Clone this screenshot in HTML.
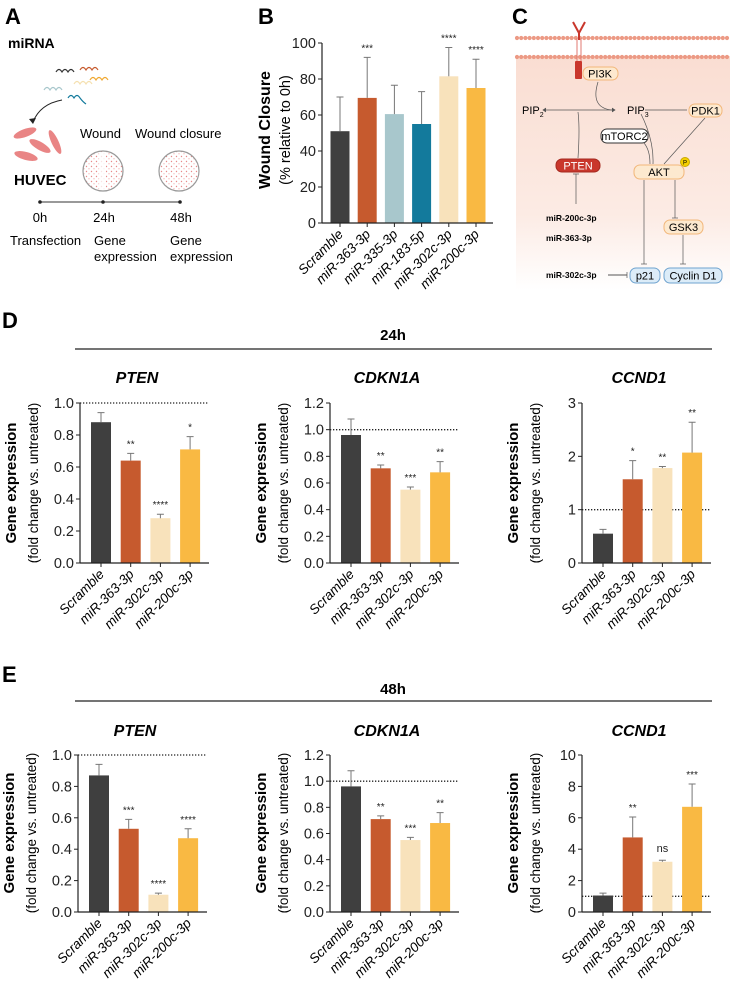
<!DOCTYPE html>
<html><head><meta charset="utf-8">
<style>
html,body{margin:0;padding:0;background:#fff;}
svg{display:block;font-family:"Liberation Sans",Arial,sans-serif;}
.tk{font-family:"Liberation Sans Narrow","Liberation Sans",sans-serif;font-size:14.5px;fill:#222;}
</style></head>
<body>
<svg id="fig" width="730" height="987" viewBox="0 0 730 987" xmlns="http://www.w3.org/2000/svg">
<defs>
<linearGradient id="cellbg" x1="0" y1="0" x2="0" y2="1">
<stop offset="0" stop-color="#f9dcd0"/><stop offset="0.7" stop-color="#fcebe4"/><stop offset="1" stop-color="#ffffff"/>
</linearGradient>
<pattern id="dots" width="5" height="5" patternUnits="userSpaceOnUse">
<circle cx="1.5" cy="1.5" r="0.7" fill="#e88a8a"/><circle cx="4" cy="3.8" r="0.6" fill="#f0a0a0"/>
</pattern>
</defs>

<text x="5" y="24" font-size="22" font-weight="bold">A</text>
<text x="258" y="24" font-size="22" font-weight="bold">B</text>
<text x="512" y="24" font-size="22" font-weight="bold">C</text>
<text x="2" y="328" font-size="22" font-weight="bold">D</text>
<text x="2" y="682" font-size="22" font-weight="bold">E</text>

<g>
<text x="8" y="48" font-size="14" font-weight="bold">miRNA</text>
<g fill="none" stroke-width="1.2">
<path d="M56 72 q3 -5 6 0 q3 -5 6 0 q3 -5 6 0" stroke="#333"/>
<path d="M80 70 q3 -5 6 0 q3 -5 6 0 q3 -5 6 0" stroke="#c65a2e"/>
<path d="M90 80 q3 -5 6 0 q3 -5 6 0 q3 -5 6 0" stroke="#f0a830"/>
<path d="M44 90 q3 -5 6 0 q3 -5 6 0 q3 -5 6 0" stroke="#a8c7cc"/>
<path d="M74 84 q3 -5 6 0 q3 -5 6 0 q3 -5 6 0" stroke="#f5e0b0"/>
<path d="M68 98 q3 -5 6 0 q3 -5 6 0 q3 4 6 6" stroke="#137a9c"/>
</g>
<path d="M62 100 Q40 104 33 122" fill="none" stroke="#222" stroke-width="1"/>
<path d="M29 119 L33 124 L36 118" fill="#222"/>
<g fill="#e98585">
<ellipse cx="25" cy="133" rx="12" ry="4" transform="rotate(-20 25 133)"/>
<ellipse cx="40" cy="146" rx="12" ry="4" transform="rotate(30 40 146)"/>
<ellipse cx="55" cy="142" rx="13" ry="3.5" transform="rotate(65 55 142)"/>
<ellipse cx="26" cy="156" rx="12" ry="4" transform="rotate(15 26 156)"/>
</g>
<text x="14" y="185" font-size="15" font-weight="bold">HUVEC</text>
<text x="80" y="138" font-size="13">Wound</text>
<text x="135" y="138" font-size="13">Wound closure</text>
<circle cx="103" cy="171" r="20" fill="url(#dots)" stroke="#999" stroke-width="1.2"/>
<rect x="99" y="152" width="7" height="38" fill="#fff" opacity="0.75"/>
<circle cx="179" cy="171" r="20" fill="url(#dots)" stroke="#999" stroke-width="1.2"/>
<line x1="40" y1="202" x2="180" y2="202" stroke="#333" stroke-width="1"/>
<circle cx="40" cy="202" r="1.8" fill="#222"/><circle cx="103" cy="202" r="1.8" fill="#222"/><circle cx="180" cy="202" r="1.8" fill="#222"/>
<g font-size="13" text-anchor="middle">
<text x="40" y="222">0h</text><text x="104" y="222">24h</text><text x="181" y="222">48h</text>
</g>
<g font-size="13">
<text x="10" y="245">Transfection</text>
<text x="94" y="245">Gene</text><text x="94" y="261">expression</text>
<text x="170" y="245">Gene</text><text x="170" y="261">expression</text>
</g>
</g>

<g id="chartB"></g>

<g>
<rect x="516" y="38" width="214" height="252" fill="url(#cellbg)"/>
<rect x="516" y="32" width="214" height="24" fill="#fff"/>
<g id="membrane" fill="#ec9a85"></g>
<line x1="577" y1="38" x2="577" y2="62" stroke="#e07a70" stroke-width="1"/><line x1="581" y1="38" x2="581" y2="62" stroke="#e07a70" stroke-width="1"/>
<path d="M573 22 L579 33 L585 22" fill="none" stroke="#c9372c" stroke-width="2"/>
<line x1="579" y1="33" x2="579" y2="40" stroke="#c9372c" stroke-width="2"/>
<rect x="575" y="61" width="7" height="18" rx="1" fill="#c9372c"/>
<g font-size="11" stroke-width="1">
<rect x="583" y="67" width="35" height="13" rx="6" fill="#fde9cf" stroke="#f2b77a"/><text x="600" y="77.5" text-anchor="middle">PI3K</text>
<text x="522" y="114">PIP<tspan font-size="7" dy="3">2</tspan></text>
<text x="627" y="114">PIP<tspan font-size="7" dy="3">3</tspan></text>
<rect x="689" y="104" width="33" height="13" rx="6" fill="#fde9cf" stroke="#f2b77a"/><text x="705.5" y="114.5" text-anchor="middle">PDK1</text>
<rect x="601" y="129" width="47" height="14" rx="6" fill="#fff" stroke="#333"/><text x="624.5" y="140" text-anchor="middle">mTORC2</text>
<rect x="556" y="159" width="44" height="13" rx="6" fill="#c9372c" stroke="#a52a20"/><text x="578" y="169.5" text-anchor="middle" fill="#fff">PTEN</text>
<rect x="634" y="165" width="50" height="14" rx="6" fill="#fde9cf" stroke="#f2b77a"/><text x="659" y="176" text-anchor="middle">AKT</text>
<circle cx="685" cy="162" r="4.5" fill="#f5d000" stroke="#c9a800"/><text x="685" y="164.5" font-size="6" text-anchor="middle">P</text>
<rect x="664" y="220" width="39" height="14" rx="6" fill="#fde9cf" stroke="#f2b77a"/><text x="683.5" y="231" text-anchor="middle">GSK3</text>
<rect x="630" y="268" width="30" height="15" rx="6" fill="#dcecf8" stroke="#6fa3cf"/><text x="645" y="279.5" text-anchor="middle">p21</text>
<rect x="664" y="268" width="58" height="15" rx="6" fill="#dcecf8" stroke="#6fa3cf"/><text x="693" y="279.5" text-anchor="middle">Cyclin D1</text>
</g>
<g font-size="8.5" font-weight="bold">
<text x="546" y="221">miR-200c-3p</text>
<text x="546" y="241">miR-363-3p</text>
<text x="546" y="278">miR-302c-3p</text>
</g>
<g fill="none" stroke="#555" stroke-width="0.7">
<line x1="546" y1="110" x2="612" y2="110"/><path d="M546 108 l-3 2 l3 2" fill="#555"/><path d="M612 108 l3 2 l-3 2" fill="#555"/>
<path d="M598 82 Q590 108 612 110"/>
<path d="M578 158 Q580 128 578 112"/>
<line x1="576" y1="204" x2="576" y2="174"/><line x1="573" y1="174" x2="579" y2="174"/>
<line x1="645" y1="110" x2="687" y2="110"/>
<path d="M641 114 Q654 140 653 164"/>
<path d="M705 118 L664 164"/>
<path d="M644 143 Q650 150 650 164"/>
<line x1="644" y1="180" x2="644" y2="264"/><line x1="641" y1="264" x2="647" y2="264"/>
<line x1="675" y1="180" x2="675" y2="218"/><line x1="672" y1="218" x2="678" y2="218"/>
<line x1="683" y1="235" x2="683" y2="264"/><line x1="680" y1="264" x2="686" y2="264"/>
<line x1="608" y1="275" x2="627" y2="275" stroke-width="1"/><line x1="627" y1="272" x2="627" y2="278"/>
</g>
</g>

<text x="393" y="340" font-size="15" font-weight="bold" text-anchor="middle">24h</text>
<line x1="75" y1="349" x2="712" y2="349" stroke="#222" stroke-width="1.2"/>
<text x="393" y="694" font-size="15" font-weight="bold" text-anchor="middle">48h</text>
<line x1="75" y1="701" x2="712" y2="701" stroke="#222" stroke-width="1.2"/>

<g id="charts"></g>
</svg>

<script>
const bCategories = ["Scramble","miR-363-3p","miR-335-3p","miR-183-5p","miR-302c-3p","miR-200c-3p"];
const bValues = [51, 69.5, 60.5, 55, 81.5, 75];
const bErrors = [19, 22.5, 16, 18, 16, 16];
const bStars = ["","***","","","****","****"];
const bTicks = [0,20,40,60,80,100];
const bColors = ["#3f3f3f","#c65a2e","#a8c7cc","#137a9c","#f8e2bb","#f9b943"];

const geneCategories = ["Scramble","miR-363-3p","miR-302c-3p","miR-200c-3p"];
const geneColors = ["#3f3f3f","#c65a2e","#f8e2bb","#f9b943"];
const pten24Values = [0.88, 0.64, 0.28, 0.71];
const pten24Errors = [0.06, 0.045, 0.025, 0.08];
const pten24Stars = ["","**","****","*"];
const cdkn24Values = [0.96, 0.71, 0.55, 0.68];
const cdkn24Errors = [0.12, 0.025, 0.02, 0.08];
const cdkn24Stars = ["","**","***","**"];
const ccnd24Values = [0.55, 1.57, 1.78, 2.07];
const ccnd24Errors = [0.08, 0.35, 0.03, 0.57];
const ccnd24Stars = ["","*","**","**"];
const pten48Values = [0.87, 0.53, 0.11, 0.47];
const pten48Errors = [0.07, 0.06, 0.01, 0.06];
const pten48Stars = ["","***","****","****"];
const cdkn48Values = [0.96, 0.71, 0.55, 0.68];
const cdkn48Errors = [0.12, 0.025, 0.02, 0.08];
const cdkn48Stars = ["","**","***","**"];
const ccnd48Values = [1.05, 4.75, 3.2, 6.7];
const ccnd48Errors = [0.15, 1.3, 0.1, 1.45];
const ccnd48Stars = ["","**","ns","***"];
const ptenTicks = [0,0.2,0.4,0.6,0.8,1.0];
const cdknTicks = [0,0.2,0.4,0.6,0.8,1.0,1.2];
const ccnd24Ticks = [0,1,2,3];
const ccnd48Ticks = [0,2,4,6,8,10];

const NS = "http://www.w3.org/2000/svg";
function mk(tag, parent, attrs){
  const e = document.createElementNS(NS, tag);
  for (const k in attrs) e.setAttribute(k, attrs[k]);
  parent.appendChild(e);
  return e;
}

const mem = document.getElementById('membrane');
for (let x = 517; x < 730; x += 4.2) {
  for (const y of [38, 57]) {
    const c = mk('circle', mem, {cx: x, cy: y, r: 2.1});
    
    
  }
}

function drawChart(parent, cfg) {
  const g = mk('g', parent, {});
  
  
  const yMax = cfg.ticks[cfg.ticks.length - 1];
  const yScale = v => cfg.y0 - (v / yMax) * (cfg.y0 - cfg.yTop);
  const xScale = i => cfg.x0 + cfg.first + i * cfg.step;
  const fmt = cfg.fmt || (v => String(v));
  if (cfg.refLine !== undefined) {
    const l = mk('line', g, {x1: cfg.x0, x2: cfg.xEnd, y1: yScale(cfg.refLine), y2: yScale(cfg.refLine), stroke: '#222', 'stroke-width': 1.3, 'stroke-dasharray': '1.3,1.7'});
    
    
  }
  cfg.values.forEach((v, i) => {
    const cx = xScale(i);
    const top = yScale(v);
    const r = mk('rect', g, {x: cx - cfg.bw / 2, y: top, width: cfg.bw, height: cfg.y0 - top, fill: cfg.colors[i]});
    
    
    const et = yScale(v + cfg.errors[i]);
    const e = mk('path', g, {d: `M${cx} ${top} V${et} M${cx-3.5} ${et} H${cx+3.5}`, stroke: '#777', 'stroke-width': 1, fill: 'none'});
    
    
    if (cfg.stars[i]) {
      const s = mk('text', g, {x: cx, y: et - (cfg.stars[i] === 'ns' ? 8 : 6), 'text-anchor': 'middle', 'font-size': cfg.stars[i] === 'ns' ? 11 : 10, fill: '#222'});
      s.textContent = cfg.stars[i];
      
      
    }
    mk('line', g, {x1: cx, x2: cx, y1: cfg.y0, y2: cfg.y0 + 4, stroke: '#222', 'stroke-width': 1});
    const lx = cx + 4, ly = cfg.y0 + 12;
    const t = mk('text', g, {x: lx, y: ly, 'text-anchor': 'end', 'font-size': 13.5, 'font-style': 'italic', transform: `rotate(-45 ${lx} ${ly})`});
    t.textContent = cfg.cats[i];
    
    
  });
  const ya = mk('line', g, {x1: cfg.x0, x2: cfg.x0, y1: cfg.yTop, y2: cfg.y0, stroke: '#222', 'stroke-width': 1.2});
  
  
  const xa = mk('line', g, {x1: cfg.x0, x2: cfg.xEnd, y1: cfg.y0, y2: cfg.y0, stroke: '#222', 'stroke-width': 1.2});
  
  
  cfg.ticks.forEach(v => {
    const y = yScale(v);
    mk('line', g, {x1: cfg.x0 - 4, x2: cfg.x0, y1: y, y2: y, stroke: '#222', 'stroke-width': 1});
    const t = mk('text', g, {x: cfg.x0 - 6, y: y + 5, 'text-anchor': 'end', class: 'tk'});
    t.textContent = fmt(v);
    
    
  });
  const l1 = mk('text', g, {x: cfg.lab1x, y: cfg.labY, 'text-anchor': 'middle', 'font-size': cfg.lab1size || 15, 'font-weight': 'bold', transform: `rotate(-90 ${cfg.lab1x} ${cfg.labY})`});
  l1.textContent = cfg.lab1;
  
  
  const l2 = mk('text', g, {x: cfg.lab2x, y: cfg.labY, 'text-anchor': 'middle', 'font-size': cfg.lab2size || 13.5, transform: `rotate(-90 ${cfg.lab2x} ${cfg.labY})`});
  l2.textContent = cfg.lab2;
  
  
  if (cfg.title) {
    const tt = mk('text', g, {x: cfg.titleX, y: cfg.titleY, 'text-anchor': 'middle', 'font-size': 16, 'font-weight': 'bold', 'font-style': 'italic'});
    tt.textContent = cfg.title;
    
    
  }
}

drawChart(document.getElementById('chartB'), {
  name: 'wound-closure-bars', cats: bCategories, values: bValues, errors: bErrors, stars: bStars,
  colors: bColors, ticks: bTicks, x0: 322, xEnd: 493, y0: 223, yTop: 43, first: 18, step: 27.2, bw: 19,
  lab1: 'Wound Closure', lab2: '(% relative to 0h)', lab1x: 270, lab2x: 290, labY: 130, lab1size: 16, lab2size: 14.5
});

const charts = document.getElementById('charts');
const dec1 = v => v.toFixed(1);
const panels = [
  {name:'pten-24h', title:'PTEN', vals:pten24Values, errs:pten24Errors, stars:pten24Stars, ticks:ptenTicks, fmt:dec1, x0:80, ref:1, row:0},
  {name:'cdkn1a-24h', title:'CDKN1A', vals:cdkn24Values, errs:cdkn24Errors, stars:cdkn24Stars, ticks:cdknTicks, fmt:dec1, x0:330, ref:1, row:0},
  {name:'ccnd1-24h', title:'CCND1', vals:ccnd24Values, errs:ccnd24Errors, stars:ccnd24Stars, ticks:ccnd24Ticks, fmt:null, x0:582, ref:1, row:0},
  {name:'pten-48h', title:'PTEN', vals:pten48Values, errs:pten48Errors, stars:pten48Stars, ticks:ptenTicks, fmt:dec1, x0:78, ref:1, row:1},
  {name:'cdkn1a-48h', title:'CDKN1A', vals:cdkn48Values, errs:cdkn48Errors, stars:cdkn48Stars, ticks:cdknTicks, fmt:dec1, x0:330, ref:1, row:1},
  {name:'ccnd1-48h', title:'CCND1', vals:ccnd48Values, errs:ccnd48Errors, stars:ccnd48Stars, ticks:ccnd48Ticks, fmt:null, x0:582, ref:1, row:1}
];
panels.forEach(p => {
  const row = p.row === 0 ? {y0: 563, yTop: 403, titleY: 383, labY: 483} : {y0: 912, yTop: 755, titleY: 736, labY: 833};
  drawChart(charts, {
    name: p.name + '-chart', cats: geneCategories, values: p.vals, errors: p.errs, stars: p.stars,
    colors: geneColors, ticks: p.ticks, fmt: p.fmt, refLine: p.ref,
    x0: p.x0, xEnd: p.x0 + 129, y0: row.y0, yTop: row.yTop, first: 21, step: 29.7, bw: 20,
    lab1: 'Gene expression', lab2: '(fold change vs. untreated)', lab1x: p.x0 - 64, lab2x: p.x0 - 42, labY: row.labY,
    title: p.title, titleX: p.x0 + 57, titleY: row.titleY
  });
});
</script>
</body></html>
